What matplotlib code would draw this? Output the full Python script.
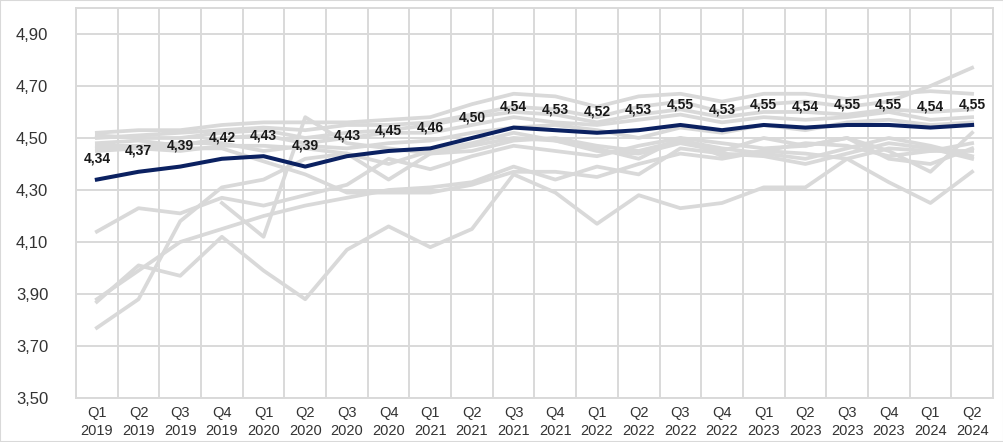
import numpy as np
import matplotlib
matplotlib.use("Agg")
import matplotlib.pyplot as plt
from matplotlib.ticker import FixedLocator, FuncFormatter

plt.rcParams['font.family'] = ['Liberation Sans', 'DejaVu Sans']

# Kategorien (Quartale)
quarters = ['Q1\n2019', 'Q2\n2019', 'Q3\n2019', 'Q4\n2019',
            'Q1\n2020', 'Q2\n2020', 'Q3\n2020', 'Q4\n2020',
            'Q1\n2021', 'Q2\n2021', 'Q3\n2021', 'Q4\n2021',
            'Q1\n2022', 'Q2\n2022', 'Q3\n2022', 'Q4\n2022',
            'Q1\n2023', 'Q2\n2023', 'Q3\n2023', 'Q4\n2023',
            'Q1\n2024', 'Q2\n2024']

# Hauptreihe (dunkelblau, beschriftet)
main = [4.34, 4.37, 4.39, 4.42, 4.43, 4.39, 4.43, 4.45, 4.46, 4.50, 4.54,
        4.53, 4.52, 4.53, 4.55, 4.53, 4.55, 4.54, 4.55, 4.55, 4.54, 4.55]

# Vergleichsreihen (grau)
nan = np.nan
g1 = [4.52, 4.53, 4.53, 4.55, 4.56, 4.56, 4.56, 4.57, 4.58, 4.63, 4.67,
      4.66, 4.62, 4.66, 4.67, 4.64, 4.67, 4.67, 4.65, 4.67, 4.68, 4.67]
g2 = [4.50, 4.51, 4.52, 4.53, 4.54, 4.53, 4.55, 4.55, 4.56, 4.59, 4.62,
      4.61, 4.58, 4.62, 4.64, 4.60, 4.63, 4.64, 4.62, 4.64, 4.70, 4.77]
g3 = [4.51, 4.50, 4.50, 4.52, 4.53, 4.50, 4.52, 4.53, 4.55, 4.58, 4.60,
      4.59, 4.56, 4.59, 4.61, 4.58, 4.60, 4.60, 4.59, 4.61, 4.60, 4.61]
g4 = [4.48, 4.49, 4.47, 4.50, 4.51, 4.48, 4.50, 4.52, 4.52, 4.55, 4.58,
      4.56, 4.55, 4.57, 4.59, 4.56, 4.58, 4.57, 4.58, 4.60, 4.57, 4.58]
g5 = [4.46, 4.47, 4.48, 4.48, 4.45, 4.47, 4.46, 4.48, 4.49, 4.52, 4.54,
      4.55, 4.53, 4.50, 4.54, 4.52, 4.55, 4.53, 4.56, 4.57, 4.55, 4.56]
g6 = [4.47, 4.47, 4.46, 4.46, 4.41, 4.36, 4.29, 4.29, 4.29, 4.32, 4.37,
      4.37, 4.35, 4.40, 4.44, 4.42, 4.45, 4.44, 4.42, 4.46, 4.45, 4.45]
g7 = [4.45, 4.46, 4.45, 4.47, 4.47, 4.46, 4.44, 4.34, 4.44, 4.45, 4.49,
      4.50, 4.47, 4.45, 4.49, 4.46, 4.44, 4.42, 4.46, 4.50, 4.47, 4.43]
g8 = [3.77, 3.88, 4.18, 4.31, 4.34, 4.42, 4.44, 4.40, 4.45, 4.48, 4.52,
      4.49, 4.45, 4.44, 4.48, 4.45, 4.50, 4.47, 4.50, 4.45, 4.37, 4.52]
g9 = [3.87, 4.01, 3.97, 4.12, 3.99, 3.88, 4.07, 4.16, 4.08, 4.15, 4.36,
      4.29, 4.17, 4.28, 4.23, 4.25, 4.31, 4.31, 4.42, 4.33, 4.25, 4.37]
g10 = [3.88, 3.99, 4.10, 4.15, 4.20, 4.24, 4.27, 4.30, 4.31, 4.33, 4.39,
       4.34, 4.39, 4.36, 4.46, 4.44, 4.43, 4.40, 4.44, 4.48, 4.46, 4.42]
g11 = [nan, nan, nan, 4.25, 4.12, 4.58, 4.48, 4.46, 4.44, 4.47, 4.50,
       4.49, 4.46, 4.42, 4.50, 4.43, 4.45, 4.48, 4.47, 4.43, 4.45, 4.48]
g12 = [4.14, 4.23, 4.21, 4.27, 4.24, 4.28, 4.32, 4.42, 4.38, 4.43, 4.47,
       4.45, 4.43, 4.47, 4.50, 4.48, 4.46, 4.47, 4.50, 4.42, 4.40, 4.46]
grey_series = [g1, g2, g3, g4, g5, g6, g7, g8, g9, g10, g11, g12]

y_ticks = [3.50, 3.70, 3.90, 4.10, 4.30, 4.50, 4.70, 4.90]

grid_col = '#d9d9d9'
fig = plt.figure(figsize=(10.04, 4.42), dpi=100)
ax = fig.add_axes([0.0757, 0.0995, 0.9133, 0.8825])

x = np.arange(len(quarters))
for s in grey_series:
    ax.plot(x, s, color=grid_col, lw=2.7, zorder=2)
ax.plot(x, main, color='#0b2161', lw=2.9, zorder=4)

for xi, v in zip(x, main):
    ax.annotate(f'{v:.2f}'.replace('.', ','), (xi, v), xytext=(0, 15),
                textcoords='offset points', ha='center', va='center',
                fontsize=10, fontweight='bold', color='#1a1a1a', zorder=5)

ax.set_xlim(-0.5, len(quarters) - 0.5)
ax.set_ylim(3.5, 5.0)
ax.set_xticks(x)
ax.set_xticklabels(quarters, fontsize=10.5, color='#333333', linespacing=1.3)
ax.xaxis.set_minor_locator(FixedLocator(np.arange(-0.5, len(quarters), 1)))
ax.set_yticks(y_ticks)
ax.yaxis.set_major_formatter(FuncFormatter(lambda v, p: f'{v:.2f}'.replace('.', ',')))
ax.tick_params(axis='y', labelsize=12, colors='#333333', length=0, pad=20)
ax.tick_params(axis='x', length=0, pad=6, which='both')
ax.grid(axis='y', which='major', color=grid_col, lw=1.4, zorder=0)
ax.grid(axis='x', which='minor', color=grid_col, lw=1.4, zorder=0)
ax.set_axisbelow(True)
for sp in ax.spines.values():
    sp.set_color(grid_col)
    sp.set_linewidth(1.4)

fig.patches.append(plt.Rectangle((0, 0), 1, 1, transform=fig.transFigure,
                                 fill=False, edgecolor=grid_col, lw=1.5))

fig.savefig('out.png', dpi=100)
